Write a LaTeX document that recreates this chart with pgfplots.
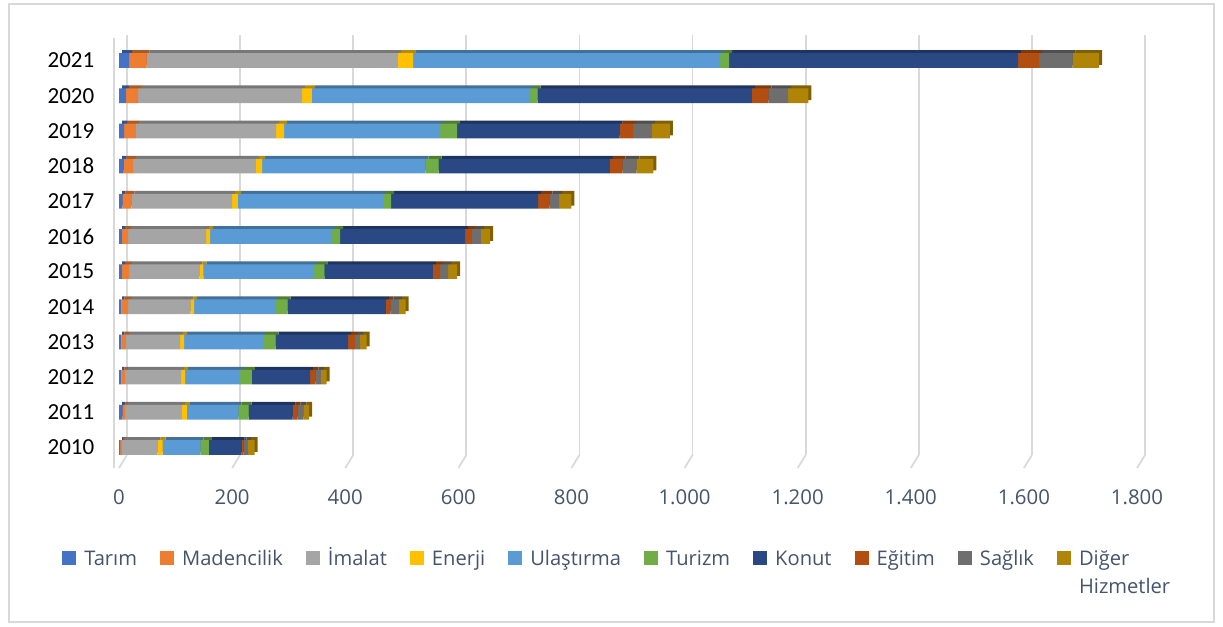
\documentclass[border=0pt]{standalone}
\usepackage{pgfplots}
\pgfplotsset{compat=1.18}
\usepackage{pgfplotstable}
\usepackage{fontspec}
\setmainfont{Carlito}
\newfontfamily\osans{Open Sans}

\definecolor{cTarim}{HTML}{4472C4}
\definecolor{cMaden}{HTML}{ED7D31}
\definecolor{cImalat}{HTML}{A5A5A5}
\definecolor{cEnerji}{HTML}{FFC000}
\definecolor{cUlas}{HTML}{5B9BD5}
\definecolor{cTurizm}{HTML}{70AD47}
\definecolor{cKonut}{HTML}{2A4883}
\definecolor{cEgitim}{HTML}{B24F10}
\definecolor{cSaglik}{HTML}{6E6E6E}
\definecolor{cDiger}{HTML}{B08407}
\definecolor{cGrid}{HTML}{D9D9D9}
\definecolor{cText}{HTML}{44546A}

\pgfplotstableread{
y Tarim Maden Imalat Enerji Ulas Turizm Konut Egitim Saglik Diger
0  2  3  63  9  67 15  58  3  8 12
1  6  5 100  9  91 18  78  9 10 10
2  4  7  99  7  97 21 103  9 10 10
3  4  8  96  7 140 22 128 12  9 12
4  4 12 110  7 143 22 174  8 15 12
5  5 13 124  7 196 18 192 13 14 16
6  5 11 138  7 216 14 221 12 16 16
7  6 16 178 10 257 14 260 20 17 22
8  8 17 217 11 289 23 303 22 25 30
9  9 21 248 14 276 30 287 24 33 32
10 12 22 290 17 386 13 379 29 35 36
11 18 31 444 27 543 16 511 37 59 47
}\data

\pgfplotsset{
  basebars/.style={
    xbar stacked, bar width=11pt, scale only axis,
    width=763.5pt, height=316.5pt,
    xmin=0, xmax=1800, ymin=-0.5, ymax=11.5,
  },
}

\begin{document}
\begin{tikzpicture}[x=0.75pt,y=0.75pt,font=\fontsize{17.25}{21}\selectfont]
\path (0,0) rectangle (1223,626);
\draw[cGrid, line width=0.9pt] (9,4) rectangle (1214,622);

% back wall grid
\begin{axis}[at={(95.25pt,128.25pt)}, anchor=south west, scale only axis,
  width=763.5pt, height=315pt, xmin=0, xmax=1800, ymin=0, ymax=1,
  xtick={0,200,...,1800}, ytick=\empty, xticklabels={},
  major tick length=0pt, axis line style={draw=none},
  xmajorgrids, grid style={cGrid, line width=1.3pt}]
\end{axis}
\foreach \v in {0,200,...,1800} {
  \draw[cGrid, line width=1.3pt] ({127+0.56556*\v},171) -- ++(-8,-13);
}
\draw[cGrid, line width=1.3pt] (114,588) -- (114,158);

% shadow (3D depth)
\begin{axis}[basebars, at={(91.5pt,123pt)}, anchor=south west, hide axis]
\addplot[fill=cTarim!72!black, draw=none] table[x=Tarim,y=y] {\data};
\addplot[fill=cMaden!72!black, draw=none] table[x=Maden,y=y] {\data};
\addplot[fill=cImalat!72!black, draw=none] table[x=Imalat,y=y] {\data};
\addplot[fill=cEnerji!72!black, draw=none] table[x=Enerji,y=y] {\data};
\addplot[fill=cUlas!72!black, draw=none] table[x=Ulas,y=y] {\data};
\addplot[fill=cTurizm!72!black, draw=none] table[x=Turizm,y=y] {\data};
\addplot[fill=cKonut!72!black, draw=none] table[x=Konut,y=y] {\data};
\addplot[fill=cEgitim!72!black, draw=none] table[x=Egitim,y=y] {\data};
\addplot[fill=cSaglik!72!black, draw=none] table[x=Saglik,y=y] {\data};
\addplot[fill=cDiger!72!black, draw=none] table[x=Diger,y=y] {\data};
\end{axis}

% front faces
\begin{axis}[basebars, at={(89.25pt,120.75pt)}, anchor=south west,
  axis line style={draw=none}, major tick length=0pt,
  ytick={0,...,11},
  yticklabels={2010,2011,2012,2013,2014,2015,2016,2017,2018,2019,2020,2021},
  xtick={0,200,...,1800},
  scaled x ticks=false,
  xticklabel style={/pgf/number format/1000 sep={.}, yshift=-15pt,
    font=\osans\fontsize{15.3}{18}\selectfont, text=cText},
  yticklabel style={xshift=-15pt, text=black},
  /pgf/number format/assume math mode=true,
  legend columns=10,
  legend cell align=left,
  legend image code/.code={\fill[#1] (0pt,0pt) rectangle (10.5pt,10.5pt);},
  legend style={draw=none, fill=none, at={(-0.056,-0.19)}, anchor=north west,
    inner sep=0pt, text=cText, font=\osans\fontsize{15.1}{21}\selectfont,
    nodes={inner sep=0pt}, cells={anchor=base west},
    /tikz/every odd column/.append style={column sep=6pt},
    /tikz/every even column/.append style={column sep=17.3pt}},
]
\addplot[fill=cTarim, draw=none] table[x=Tarim,y=y] {\data};
\addplot[fill=cMaden, draw=none] table[x=Maden,y=y] {\data};
\addplot[fill=cImalat, draw=none] table[x=Imalat,y=y] {\data};
\addplot[fill=cEnerji, draw=none] table[x=Enerji,y=y] {\data};
\addplot[fill=cUlas, draw=none] table[x=Ulas,y=y] {\data};
\addplot[fill=cTurizm, draw=none] table[x=Turizm,y=y] {\data};
\addplot[fill=cKonut, draw=none] table[x=Konut,y=y] {\data};
\addplot[fill=cEgitim, draw=none] table[x=Egitim,y=y] {\data};
\addplot[fill=cSaglik, draw=none] table[x=Saglik,y=y] {\data};
\addplot[fill=cDiger, draw=none] table[x=Diger,y=y] {\data};
\legend{Tarım,Madencilik,İmalat,Enerji,Ulaştırma,Turizm,Konut,Eğitim,Sağlık,{\begin{tabular}[t]{@{}l@{}}Diğer\\Hizmetler\end{tabular}}}
\end{axis}
\end{tikzpicture}
\end{document}
